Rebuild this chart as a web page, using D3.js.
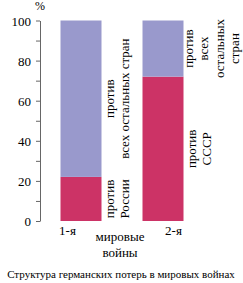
<!DOCTYPE html>
<head>
	<meta charset="utf-8">
	<script src="https://d3js.org/d3.v7.min.js"></script>
	<style>
		body { margin: 0; background: #fff; }
	</style>
</head>
<body>
	<script type="text/javascript">
		var wars = ["1-я", "2-я"];
		var vsRussia = [22, 72];
		var vsOthers = [78, 28];
		var redLabels = [["против", "России"], ["против", "СССР"]];
		var blueLabels = [["против", "всех остальных стран"], ["против", "всех", "остальных", "стран"]];
		var yTicks = [0, 10, 20, 30, 40, 50, 60, 70, 80, 90, 100];

		var w = 243, h = 283;
		var red = "#cc3366", blue = "#9999cc";
		var serif = "'Liberation Serif', 'Times New Roman', Times, serif";

		var svg = d3.select("body").append("svg").attr("width", w).attr("height", h)
			.attr("font-family", serif);

		var xScale = d3.scaleBand().domain(wars).range([40, 204]).paddingInner(0.5).paddingOuter(0.25);
		var yScale = d3.scaleLinear().domain([0, 100]).range([221, 20.5]);

		// axis
		var axis = d3.axisLeft(yScale)
			.tickValues(yTicks)
			.tickSize(4)
			.tickSizeOuter(0)
			.tickFormat(function(d){ return d % 20 == 0 ? d : ""; });
		var ag = svg.append("g").attr("transform", "translate(40,0)").call(axis)
			.attr("font-family", serif).attr("font-size", 13);
		ag.select(".domain").attr("stroke", "#666");
		ag.selectAll(".tick line").attr("stroke", "#666");
		ag.selectAll(".tick text")
			.attr("x", -9)
			.attr("dy", "0.35em")
			.attr("fill", "#000");

		svg.append("text").attr("x", 40).attr("y", 10).attr("text-anchor", "middle")
			.attr("font-size", 12).text("%");

		var rows = wars.map(function(d, i){
			return {war: d, r: vsRussia[i], o: vsOthers[i], rl: redLabels[i], bl: blueLabels[i]};
		});

		// red part
		svg.selectAll("rect.red")
			.data(rows)
			.enter()
			.append("rect")
			.attr("class", "red")
			.attr("x", function(d){ return xScale(d.war); })
			.attr("y", function(d){ return yScale(d.r); })
			.attr("width", xScale.bandwidth())
			.attr("height", function(d){ return yScale(0) - yScale(d.r); })
			.attr("fill", red);

		// blue part on top
		svg.selectAll("rect.blue")
			.data(rows)
			.enter()
			.append("rect")
			.attr("class", "blue")
			.attr("x", function(d){ return xScale(d.war); })
			.attr("y", function(d){ return yScale(d.r + d.o); })
			.attr("width", xScale.bandwidth())
			.attr("height", function(d){ return yScale(d.r) - yScale(d.r + d.o); })
			.attr("fill", blue);

		// rotated labels beside the bars
		var addLabel = function(d, lines, lo, hi){
			var right = xScale(d.war) + xScale.bandwidth();
			var mid = (yScale(lo) + yScale(hi)) / 2;
			var start = lines.length > 2 ? 9 : 12;
			lines.forEach(function(t, j){
				svg.append("text")
					.attr("transform", "translate(" + (right + start + j * 15.5) + "," + mid + ") rotate(-90)")
					.attr("text-anchor", "middle")
					.attr("font-size", 13)
					.text(t);
			});
		};
		rows.forEach(function(d){
			addLabel(d, d.rl, 0, d.r);
			addLabel(d, d.bl, d.r, d.r + d.o);
		});

		// category labels
		svg.selectAll("text.cat")
			.data(rows)
			.enter()
			.append("text")
			.attr("class", "cat")
			.attr("x", function(d, i){ return xScale(d.war) + (i == 0 ? 7 : 31); })
			.attr("y", 235)
			.attr("text-anchor", "middle")
			.attr("font-size", 13)
			.text(function(d){ return d.war; });

		svg.append("text").attr("x", 120).attr("y", 241).attr("text-anchor", "middle")
			.attr("font-size", 13).text("мировые");
		svg.append("text").attr("x", 120).attr("y", 257).attr("text-anchor", "middle")
			.attr("font-size", 13).text("войны");

		svg.append("text").attr("x", 121).attr("y", 278).attr("text-anchor", "middle")
			.attr("font-size", 11).text("Структура германских потерь в мировых войнах");
	</script>
</body>
